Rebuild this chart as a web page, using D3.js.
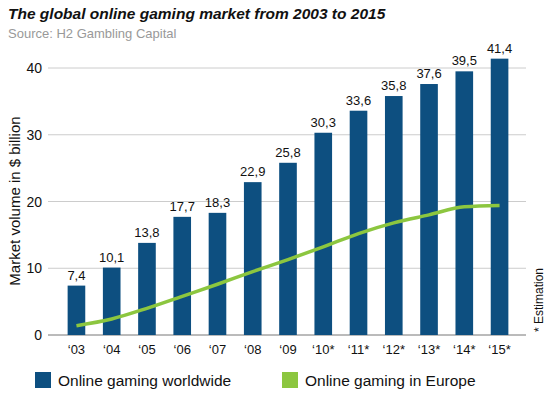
<!DOCTYPE html>
<html><head><meta charset="utf-8">
<script src="https://cdn.jsdelivr.net/npm/d3@7"></script>
<style>body{margin:0;background:#fff}text{font-family:"Liberation Sans",Arial,sans-serif}</style>
</head><body><div id="chart"></div>
<script>
const years = ["‘03","‘04","‘05","‘06","‘07","‘08","‘09","‘10*","‘11*","‘12*","‘13*","‘14*","‘15*"];
const worldwide = [7.4,10.1,13.8,17.7,18.3,22.9,25.8,30.3,33.6,35.8,37.6,39.5,41.4];
const europe = [1.4,2.4,4.0,5.8,7.6,9.5,11.3,13.2,15.2,16.8,18.0,19.2,19.4];
const yTicks = [0,10,20,30,40];

const W = 555, H = 417;
const svg = d3.select("#chart").append("svg").attr("width", W).attr("height", H);

const x = d3.scaleBand().domain(years).range([50, 526]).padding(0.5);
const y = d3.scaleLinear().domain([0, 40]).range([335, 68]);

// title
svg.append("text").attr("x", 8).attr("y", 19).text("The global online gaming market from 2003 to 2015")
  .style("font-size", "15.5px").style("font-weight", "bold").style("font-style", "italic").style("fill", "#111");
svg.append("text").attr("x", 8).attr("y", 38).text("Source: H2 Gambling Capital")
  .style("font-size", "13px").style("fill", "#999");

// grid
svg.append("g").selectAll("line").data(yTicks).enter().append("line")
  .attr("x1", 48).attr("x2", 526).attr("y1", d => y(d)).attr("y2", d => y(d))
  .style("stroke", d => d === 0 ? "#777" : "#ccc").style("stroke-width", 1);
svg.append("g").selectAll("text").data(yTicks).enter().append("text")
  .attr("x", 42).attr("y", d => y(d) + 5).attr("text-anchor", "end").text(d => d)
  .style("font-size", "14px").style("fill", "#111");

svg.append("text").attr("transform", "translate(20,201) rotate(-90)").attr("text-anchor", "middle")
  .text("Market volume in $ billion").style("font-size", "15px").style("fill", "#111");
svg.append("text").attr("transform", "translate(543,300) rotate(-90)").attr("text-anchor", "middle")
  .text("* Estimation").style("font-size", "12px").style("fill", "#111");

// bars
svg.append("g").selectAll("rect").data(worldwide).enter().append("rect")
  .attr("x", (d, i) => x(years[i])).attr("width", x.bandwidth())
  .attr("y", d => y(d)).attr("height", d => y(0) - y(d)).style("fill", "#0d4f80");
svg.append("g").selectAll("text").data(worldwide).enter().append("text")
  .attr("x", (d, i) => x(years[i]) + x.bandwidth() / 2).attr("y", d => y(d) - 6)
  .attr("text-anchor", "middle").text(d => String(d).replace(".", ","))
  .style("font-size", "13px").style("fill", "#111");

// x labels
svg.append("g").selectAll("text").data(years).enter().append("text")
  .attr("x", d => x(d) + x.bandwidth() / 2).attr("y", 354).attr("text-anchor", "middle")
  .text(d => d).style("font-size", "13px").style("fill", "#111");

// line
const line = d3.line().x((d, i) => x(years[i]) + x.bandwidth() / 2).y(d => y(d)).curve(d3.curveMonotoneX);
svg.append("path").datum(europe).attr("d", line).style("fill", "none")
  .style("stroke", "#8cc63f").style("stroke-width", 3.5);

// legend
const legend = [["Online gaming worldwide", "#0d4f80", 35], ["Online gaming in Europe", "#8cc63f", 282]];
const lg = svg.append("g").selectAll("g").data(legend).enter().append("g");
lg.append("rect").attr("x", d => d[2]).attr("y", 372).attr("width", 16).attr("height", 16).style("fill", d => d[1]);
lg.append("text").attr("x", d => d[2] + 23).attr("y", 386).text(d => d[0])
  .style("font-size", "15.5px").style("fill", "#111");
</script></body></html>
